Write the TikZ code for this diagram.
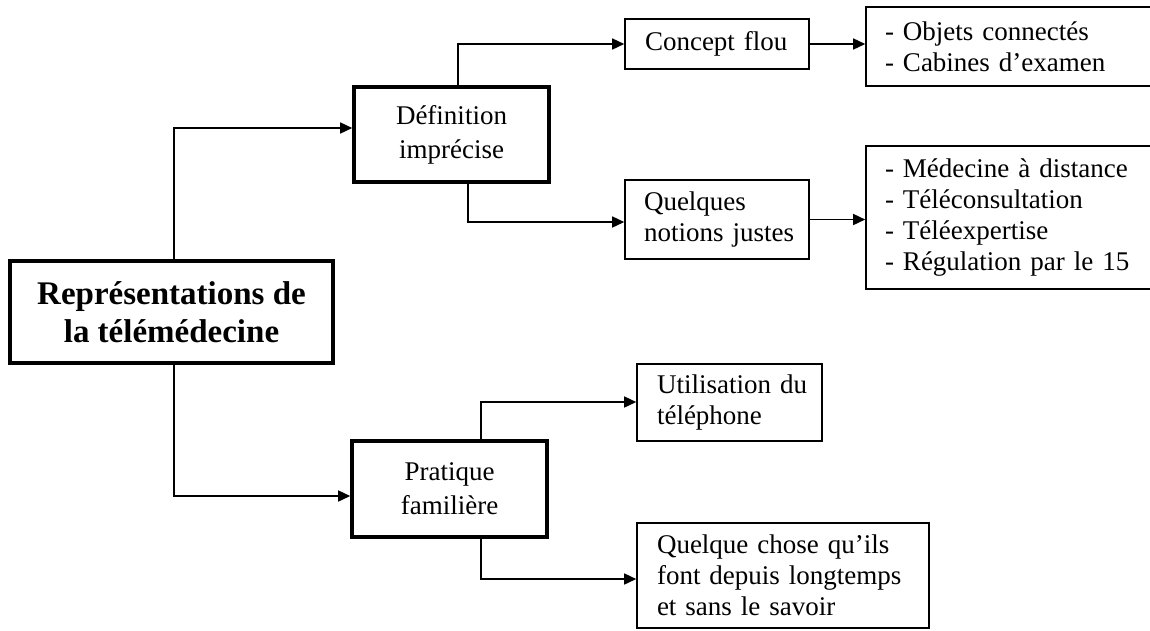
\documentclass[tikz,border=0pt]{standalone}
\usepackage{fontspec}
\setmainfont{Liberation Serif}
\usetikzlibrary{arrows.meta}
\newcommand{\oneline}[1]{\mbox{#1}}
\begin{document}
\begin{tikzpicture}[x=1pt,y=1pt,
  txt/.style={font=\fontsize{27}{31}\selectfont},
  thinbox/.style={draw, line width=1.6pt, inner ysep=0pt, inner xsep=20pt, align=left, txt},
  thickbox/.style={draw, line width=3.6pt, inner sep=0pt, align=center, font=\fontsize{27}{34}\selectfont},
  mainbox/.style={draw, line width=4.5pt, inner sep=0pt, align=center, font=\fontsize{33}{38}\selectfont\bfseries},
  conn/.style={line width=1.5pt, -{Triangle[length=12pt,width=11pt]}}
]
\useasboundingbox (0,0) rectangle (1150,-630);
\clip (0,0) rectangle (1150,-630);
\fill[white] (0,0) rectangle (1150,-630);

% nodes
\node[mainbox, minimum width=323pt, minimum height=102pt] (main) at (171.5,-312) {Représentations de\\la télémédecine};
\node[thickbox, minimum width=195pt, minimum height=95pt] (def) at (451.5,-134.5) {Définition\\imprécise};
\node[thickbox, minimum width=195pt, minimum height=96pt] (prat) at (449.5,-489) {Pratique\\familière};

\node[thinbox, text width=144pt, minimum height=50pt] (concept) at (717,-44) {\oneline{Concept flou}};
\node[thinbox, inner xsep=19pt, text width=256pt, minimum height=79pt] (objets) at (1013,-46.5) {\oneline{- Objets connectés}\\\oneline{- Cabines d’examen}};
\node[thinbox, inner xsep=19pt, text width=146pt, minimum height=79pt] (quelques) at (717,-219.5) {\oneline{Quelques}\\\oneline{notions justes}};
\node[thinbox, inner xsep=19pt, text width=256pt, minimum height=143pt] (medecine) at (1013,-217.5) {\oneline{- Médecine à distance}\\\oneline{- Téléconsultation}\\\oneline{- Téléexpertise}\\\oneline{- Régulation par le 15}};
\node[thinbox, text width=145pt, minimum height=77pt] (util) at (729.5,-402.5) {\oneline{Utilisation du}\\\oneline{téléphone}};
\node[thinbox, text width=252pt, minimum height=105pt] (qchose) at (783,-575.5) {\oneline{Quelque chose qu’ils}\\\oneline{font depuis longtemps}\\\oneline{et sans le savoir}};

% junction coordinates
\coordinate (j1) at (174,-128);
\coordinate (j2) at (458,-44);
\coordinate (j3) at (468,-222);
\coordinate (j4) at (174,-496);
\coordinate (j5) at (481,-402);
\coordinate (j6) at (481,-579);

% connectors
\draw[conn] (main.north -| j1) |- (def.west |- j1);
\draw[conn] (main.south -| j4) |- (prat.west |- j4);
\draw[conn] (def.north -| j2) |- (concept.west |- j2);
\draw[conn] (def.south -| j3) |- (quelques.west |- j3);
\draw[conn] (concept.east) -- (objets.west |- concept.east);
\draw[conn] (quelques.east) -- (medecine.west |- quelques.east);
\draw[conn] (prat.north -| j5) |- (util.west |- j5);
\draw[conn] (prat.south -| j6) |- (qchose.west |- j6);
\end{tikzpicture}
\end{document}
